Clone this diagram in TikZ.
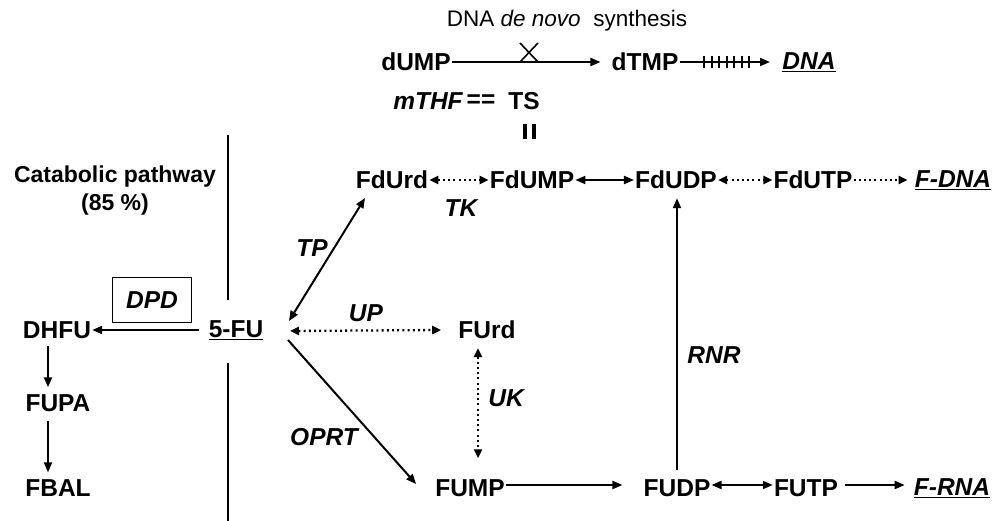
\documentclass[tikz,border=0pt]{standalone}
\usepackage{fontspec}
\setmainfont{Liberation Sans}
\usetikzlibrary{arrows.meta}
\tikzset{
  lbl/.style={font=\fontsize{24.5}{27}\selectfont\bfseries, inner sep=1pt},
  enz/.style={font=\fontsize{24.5}{27}\selectfont\bfseries\itshape, inner sep=1pt},
  cat/.style={font=\fontsize{23}{28}\selectfont\bfseries, align=center, inner sep=1pt},
  ttl/.style={font=\fontsize{22.5}{25}\selectfont, inner sep=1pt},
  arr/.style={line width=2pt, -{Triangle[length=10pt,width=8pt]}},
  darr/.style={line width=2pt, {Triangle[length=10pt,width=8pt]}-{Triangle[length=10pt,width=8pt]}},
  dot/.style={line width=2.3pt, dash pattern=on 2pt off 3.2pt},
  dtip/.style={{Triangle[length=9pt,width=8pt]}-{Triangle[length=9pt,width=8pt]}},
  stip/.style={-{Triangle[length=9pt,width=8pt]}},
  plain/.style={line width=2pt},
}
\begin{document}
\begin{tikzpicture}[x=1pt,y=-1pt]
\useasboundingbox (0,0) rectangle (999,521);
% top pathway
\node[ttl] (title) at (567,21) {DNA \textit{de novo}~ synthesis};
\node[lbl] (dump) at (416,62) {dUMP};
\node[lbl] (dtmp) at (645,62) {dTMP};
\node[enz] (dna) at (809,62) {\underline{DNA}};
\node[enz] (mthf) at (428,101) {mTHF};
\node[lbl] (eq) at (481,101) {==};
\node[lbl] (ts) at (524,101) {TS};
\draw[arr] (dump.east) -- ([xshift=-10pt]dtmp.west);
\draw[line width=1.6pt] (520,43) -- (538,62) (538,43) -- (520,62);
\coordinate (dnaend) at (770,62);
\draw[arr] (dtmp.east) -- (dnaend);
\foreach \i in {0,...,6} \draw[line width=2pt] (704+\i*7.5,56) -- (704+\i*7.5,68);
\draw[line width=3.5pt] (525,124) -- (525,139) (534,124) -- (534,139);
% row 2
\node[lbl] (fdurd) at (392,180) {FdUrd};
\node[lbl] (fdump) at (532,180) {FdUMP};
\node[lbl] (fdudp) at (676,180) {FdUDP};
\node[lbl] (fdutp) at (813,180) {FdUTP};
\node[enz] (fdna) at (953,180) {\underline{F-DNA}};
\node[enz] (tk) at (461,208) {TK};
\draw[dot, dtip] (fdurd.east) -- (fdump.west);
\draw[darr] (fdump.east) -- (fdudp.west);
\draw[dot, dtip] (fdudp.east) -- (fdutp.west);
\draw[dot, stip] (fdutp.east) -- ([xshift=-6pt]fdna.west);
% catabolic
\node[cat] (catab) at (115,191) {Catabolic pathway\\(85 \%)};
\coordinate (v1) at (228,135); \coordinate (v2) at (228,300);
\coordinate (v3) at (228,363); \coordinate (v4) at (228,521);
\draw[plain] (v1) -- (v2);
\draw[plain] (v3) -- (v4);
\node[enz, draw, line width=1.8pt, minimum width=79pt, minimum height=45pt] (dpd) at (152,300) {DPD};
\node[lbl] (dhfu) at (57,330) {DHFU};
\node[lbl] (fu) at (236,330) {\underline{5-FU}};
\node[lbl] (fupa) at (58,403) {FUPA};
\node[lbl] (fbal) at (58,488) {FBAL};
\draw[arr] ([xshift=-9pt]fu.west) -- (dhfu.east);
\draw[arr] ([xshift=-9pt,yshift=-6pt]dhfu.south) -- ([xshift=-10pt,yshift=6pt]fupa.north);
\draw[arr] ([xshift=-10pt,yshift=-8pt]fupa.south) -- ([xshift=-10pt,yshift=6pt]fbal.north);
% 5-FU branches
\coordinate (tpa) at (289,321); \coordinate (tpb) at (365,198);
\draw[darr] (tpa) -- (tpb);
\node[enz] (tp) at (312,248) {TP};
\node[lbl] (furd) at (487,330) {FUrd};
\coordinate (upa) at (290,331);
\draw[dot, dtip] (upa) -- ([xshift=-16pt]furd.west);
\node[enz] (up) at (366,313) {UP};
\node[lbl] (fump) at (470,488) {FUMP};
\draw[dot, dtip] ([xshift=-9pt,yshift=-8pt]furd.south) -- ([xshift=8pt,yshift=20pt]fump.north);
\node[enz] (uk) at (506,398) {UK};
\coordinate (opa) at (288,340);
\draw[arr] (opa) -- ([xshift=-18pt,yshift=4pt]fump.west);
\node[enz] (oprt) at (324,437) {OPRT};
\node[lbl] (fudp) at (677,488) {FUDP};
\node[lbl] (futp) at (806,488) {FUTP};
\node[enz] (frna) at (952,488) {\underline{F-RNA}};
\draw[arr] ([yshift=3pt]fump.east) -- ([xshift=-20pt,yshift=3pt]fudp.west);
\draw[darr] ([yshift=3pt]fudp.east) -- ([yshift=3pt]futp.west);
\draw[arr] ([xshift=6pt,yshift=3pt]futp.east) -- ([xshift=-8pt,yshift=3pt]frna.west);
\draw[arr] ([yshift=8pt]fudp.north) -- ([yshift=-8pt]fudp.north |- fdudp.south);
\node[enz] (rnr) at (714,355) {RNR};
\end{tikzpicture}
\end{document}
